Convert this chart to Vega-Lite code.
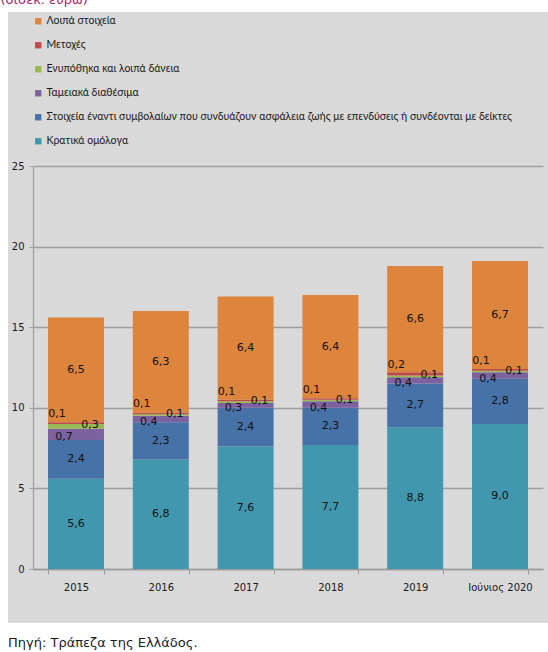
{
  "$schema": "https://vega.github.io/schema/vega-lite/v6.json",
  "width": 540,
  "height": 611,
  "autosize": {"type": "none"},
  "padding": {"left": 8, "top": 12, "right": 0, "bottom": 29},
  "background": "white",
  "title": {"text": "Πηγή: Τράπεζα της Ελλάδος.", "orient": "bottom", "anchor": "start", "frame": "group", "offset": 14, "font": "DejaVu Sans", "fontSize": 13, "fontWeight": "normal", "color": "#1a1a1a"},
  "config": {
    "view": {"fill": "#d9d9d9", "stroke": null},
    "locale": {"number": {"decimal": ",", "thousands": ".", "grouping": [3], "currency": ["", " €"]}}
  },
  "data": {"values": [
    {"cat": "2015", "series": "Κρατικά ομόλογα", "ord": 1, "value": 5.6},
    {"cat": "2015", "series": "Στοιχεία έναντι συμβολαίων που συνδυάζουν ασφάλεια ζωής με επενδύσεις ή συνδέονται με δείκτες", "ord": 2, "value": 2.4},
    {"cat": "2015", "series": "Ταμειακά διαθέσιμα", "ord": 3, "value": 0.7},
    {"cat": "2015", "series": "Ενυπόθηκα και λοιπά δάνεια", "ord": 4, "value": 0.3},
    {"cat": "2015", "series": "Μετοχές", "ord": 5, "value": 0.1},
    {"cat": "2015", "series": "Λοιπά στοιχεία", "ord": 6, "value": 6.5},
    {"cat": "2016", "series": "Κρατικά ομόλογα", "ord": 1, "value": 6.8},
    {"cat": "2016", "series": "Στοιχεία έναντι συμβολαίων που συνδυάζουν ασφάλεια ζωής με επενδύσεις ή συνδέονται με δείκτες", "ord": 2, "value": 2.3},
    {"cat": "2016", "series": "Ταμειακά διαθέσιμα", "ord": 3, "value": 0.4},
    {"cat": "2016", "series": "Ενυπόθηκα και λοιπά δάνεια", "ord": 4, "value": 0.1},
    {"cat": "2016", "series": "Μετοχές", "ord": 5, "value": 0.1},
    {"cat": "2016", "series": "Λοιπά στοιχεία", "ord": 6, "value": 6.3},
    {"cat": "2017", "series": "Κρατικά ομόλογα", "ord": 1, "value": 7.6},
    {"cat": "2017", "series": "Στοιχεία έναντι συμβολαίων που συνδυάζουν ασφάλεια ζωής με επενδύσεις ή συνδέονται με δείκτες", "ord": 2, "value": 2.4},
    {"cat": "2017", "series": "Ταμειακά διαθέσιμα", "ord": 3, "value": 0.3},
    {"cat": "2017", "series": "Ενυπόθηκα και λοιπά δάνεια", "ord": 4, "value": 0.1},
    {"cat": "2017", "series": "Μετοχές", "ord": 5, "value": 0.1},
    {"cat": "2017", "series": "Λοιπά στοιχεία", "ord": 6, "value": 6.4},
    {"cat": "2018", "series": "Κρατικά ομόλογα", "ord": 1, "value": 7.7},
    {"cat": "2018", "series": "Στοιχεία έναντι συμβολαίων που συνδυάζουν ασφάλεια ζωής με επενδύσεις ή συνδέονται με δείκτες", "ord": 2, "value": 2.3},
    {"cat": "2018", "series": "Ταμειακά διαθέσιμα", "ord": 3, "value": 0.4},
    {"cat": "2018", "series": "Ενυπόθηκα και λοιπά δάνεια", "ord": 4, "value": 0.1},
    {"cat": "2018", "series": "Μετοχές", "ord": 5, "value": 0.1},
    {"cat": "2018", "series": "Λοιπά στοιχεία", "ord": 6, "value": 6.4},
    {"cat": "2019", "series": "Κρατικά ομόλογα", "ord": 1, "value": 8.8},
    {"cat": "2019", "series": "Στοιχεία έναντι συμβολαίων που συνδυάζουν ασφάλεια ζωής με επενδύσεις ή συνδέονται με δείκτες", "ord": 2, "value": 2.7},
    {"cat": "2019", "series": "Ταμειακά διαθέσιμα", "ord": 3, "value": 0.4},
    {"cat": "2019", "series": "Ενυπόθηκα και λοιπά δάνεια", "ord": 4, "value": 0.1},
    {"cat": "2019", "series": "Μετοχές", "ord": 5, "value": 0.2},
    {"cat": "2019", "series": "Λοιπά στοιχεία", "ord": 6, "value": 6.6},
    {"cat": "Ιούνιος 2020", "series": "Κρατικά ομόλογα", "ord": 1, "value": 9.0},
    {"cat": "Ιούνιος 2020", "series": "Στοιχεία έναντι συμβολαίων που συνδυάζουν ασφάλεια ζωής με επενδύσεις ή συνδέονται με δείκτες", "ord": 2, "value": 2.8},
    {"cat": "Ιούνιος 2020", "series": "Ταμειακά διαθέσιμα", "ord": 3, "value": 0.4},
    {"cat": "Ιούνιος 2020", "series": "Ενυπόθηκα και λοιπά δάνεια", "ord": 4, "value": 0.1},
    {"cat": "Ιούνιος 2020", "series": "Μετοχές", "ord": 5, "value": 0.1},
    {"cat": "Ιούνιος 2020", "series": "Λοιπά στοιχεία", "ord": 6, "value": 6.7}
  ]},
  "encoding": {
    "x": {"field": "cat", "type": "nominal", "sort": null,
      "scale": {"range": [25, 535], "paddingInner": 0.34, "paddingOuter": 0.177},
      "axis": {"title": null, "labelAngle": 0, "offset": -54, "tickBand": "extent", "tickSize": 5, "tickColor": "#9c9c9c", "domainColor": "#9c9c9c", "domainWidth": 1.3, "labelPadding": 8, "labelFont": "DejaVu Sans", "labelFontSize": 10, "labelColor": "#1a1a1a"}},
    "y": {"field": "value", "type": "quantitative", "stack": "zero",
      "scale": {"domain": [0, 25], "range": [557, 154], "nice": false},
      "axis": {"values": [0, 5, 10, 15, 20, 25], "grid": true, "gridColor": "#a0a0a0", "gridWidth": 1.3, "domainColor": "#a0a0a0", "domainWidth": 1.3, "tickColor": "#a0a0a0", "tickSize": 4, "offset": -25, "labelPadding": 5, "labelFont": "DejaVu Sans", "labelFontSize": 10, "labelColor": "#1a1a1a",
        "title": "(δισεκ. ευρώ)", "titleAngle": 0, "titleAlign": "left", "titleBaseline": "alphabetic", "titleX": -33, "titleY": -9, "titleFont": "DejaVu Sans", "titleFontSize": 13, "titleFontWeight": "normal", "titleColor": "#a8276a"}},
    "detail": {"field": "series"},
    "order": {"field": "ord", "type": "quantitative"}
  },
  "layer": [
    {
      "mark": {"type": "bar"},
      "encoding": {
        "color": {"field": "series", "type": "nominal",
          "scale": {"domain": ["Κρατικά ομόλογα", "Στοιχεία έναντι συμβολαίων που συνδυάζουν ασφάλεια ζωής με επενδύσεις ή συνδέονται με δείκτες", "Ταμειακά διαθέσιμα", "Ενυπόθηκα και λοιπά δάνεια", "Μετοχές", "Λοιπά στοιχεία"],
            "range": ["#4198ae", "#4672a8", "#7d62a0", "#98b954", "#bd4b48", "#dd843d"]},
          "legend": {"values": ["Λοιπά στοιχεία", "Μετοχές", "Ενυπόθηκα και λοιπά δάνεια", "Ταμειακά διαθέσιμα", "Στοιχεία έναντι συμβολαίων που συνδυάζουν ασφάλεια ζωής με επενδύσεις ή συνδέονται με δείκτες", "Κρατικά ομόλογα"],
            "orient": "none", "legendX": 25, "legendY": 4, "title": null, "direction": "vertical", "padding": 0,
            "symbolType": "square", "symbolSize": 40, "symbolStrokeWidth": 0, "symbolOpacity": 1,
            "labelFont": "Lato", "labelFontSize": 10.5, "labelColor": "#1a1a1a", "labelOffset": 3, "labelLimit": 600, "rowPadding": 13}}
      }
    },
    {
      "mark": {"type": "text", "font": "DejaVu Sans", "fontSize": 11, "color": "#111111", "baseline": "middle"},
      "encoding": {
        "y": {"field": "value", "type": "quantitative", "stack": "zero", "bandPosition": 0.5},
        "text": {"condition": {"test": "datum.ord == 1 || datum.ord == 2 || datum.ord == 6", "field": "value", "type": "quantitative", "format": ".1f"}, "value": ""}
      }
    },
    {
      "mark": {"type": "text", "font": "DejaVu Sans", "fontSize": 11, "color": "#111111", "baseline": "middle", "dx": -12, "dy": 3},
      "encoding": {
        "y": {"field": "value", "type": "quantitative", "stack": "zero", "bandPosition": 0.5},
        "text": {"condition": {"test": "datum.ord == 3", "field": "value", "type": "quantitative", "format": ".1f"}, "value": ""}
      }
    },
    {
      "mark": {"type": "text", "font": "DejaVu Sans", "fontSize": 11, "color": "#111111", "baseline": "middle", "dx": 14, "dy": -1},
      "encoding": {
        "y": {"field": "value", "type": "quantitative", "stack": "zero", "bandPosition": 0.5},
        "text": {"condition": {"test": "datum.ord == 4", "field": "value", "type": "quantitative", "format": ".1f"}, "value": ""}
      }
    },
    {
      "mark": {"type": "text", "font": "DejaVu Sans", "fontSize": 11, "color": "#111111", "baseline": "middle", "dx": -19, "dy": -9},
      "encoding": {
        "y": {"field": "value", "type": "quantitative", "stack": "zero", "bandPosition": 0.5},
        "text": {"condition": {"test": "datum.ord == 5", "field": "value", "type": "quantitative", "format": ".1f"}, "value": ""}
      }
    }
  ]
}
